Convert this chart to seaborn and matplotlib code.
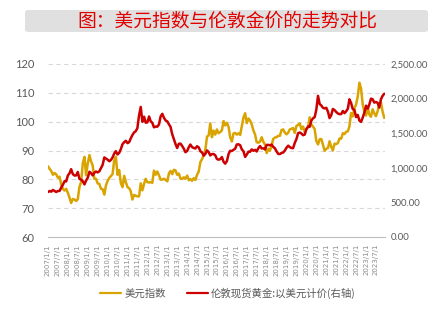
import numpy as np
import pandas as pd
import matplotlib
matplotlib.use("Agg")
import matplotlib.pyplot as plt
import matplotlib.dates as mdates
from matplotlib.patches import FancyBboxPatch
from matplotlib.ticker import FuncFormatter
import seaborn as sns

# ---------------- data (monthly readings) ----------------
title = "图：美元指数与伦敦金价的走势对比"
label_dxy = "美元指数"
label_gold = "伦敦现货黄金:以美元计价(右轴)"

dxy_2007 = [84.5, 83.6, 82.9, 81.6, 82.2, 81.7, 80.6, 80.9, 78.2, 76.7, 76.1, 76.7]
dxy_2008 = [75.3, 73.6, 71.8, 73.2, 73.0, 72.5, 73.1, 77.4, 79.1, 85.5, 87.8, 81.4]
dxy_2009 = [85.6, 88.4, 86.3, 84.8, 80.2, 80.2, 78.6, 78.4, 76.7, 76.6, 74.7, 77.9]
dxy_2010 = [79.5, 80.5, 81.1, 81.8, 86.5, 87.8, 81.6, 83.2, 78.7, 77.3, 81.2, 79.0]
dxy_2011 = [77.3, 76.9, 75.9, 73.0, 74.6, 74.3, 74.1, 74.1, 78.6, 76.2, 78.4, 80.2]
dxy_2012 = [79.0, 78.9, 79.0, 78.8, 83.0, 81.6, 82.7, 81.4, 79.9, 79.9, 80.2, 79.8]
dxy_2013 = [79.3, 82.1, 82.9, 81.8, 83.3, 83.1, 81.6, 82.0, 80.2, 80.2, 80.7, 80.2]
dxy_2014 = [81.3, 79.7, 80.1, 79.5, 80.4, 79.8, 81.5, 82.7, 86.0, 87.0, 88.4, 90.3]
dxy_2015 = [94.8, 95.3, 99.4, 94.6, 96.9, 95.5, 97.3, 96.0, 96.4, 97.0, 100.2, 98.7]
dxy_2016 = [99.6, 98.2, 94.6, 93.1, 95.9, 96.1, 95.5, 96.0, 95.4, 98.4, 101.5, 102.9]
dxy_2017 = [99.5, 101.1, 100.4, 99.1, 97.0, 95.6, 92.9, 92.7, 93.1, 94.6, 93.0, 92.1]
dxy_2018 = [89.1, 90.6, 89.9, 91.6, 94.0, 94.5, 94.6, 95.1, 95.1, 97.1, 97.3, 96.2]
dxy_2019 = [95.6, 96.2, 97.3, 97.5, 97.8, 96.1, 98.5, 98.9, 99.4, 97.4, 98.3, 96.4]
dxy_2020 = [97.4, 98.1, 101.5, 99.0, 98.3, 97.4, 93.3, 92.1, 93.9, 94.0, 91.9, 89.9]
dxy_2021 = [90.6, 90.9, 93.2, 91.3, 90.0, 92.4, 92.2, 92.6, 94.2, 94.1, 96.0, 95.7]
dxy_2022 = [96.5, 96.7, 98.3, 103.0, 101.8, 104.7, 105.9, 108.7, 113.5, 111.5, 105.9, 103.5]
dxy_2023 = [102.1, 104.9, 102.5, 101.7, 104.3, 102.9, 101.9, 103.6, 106.2, 106.7, 103.5, 101.3]

gold_2007 = [650, 665, 655, 680, 665, 650, 665, 665, 713, 754, 806, 803]
gold_2008 = [889, 922, 980, 909, 888, 890, 940, 839, 829, 806, 760, 816]
gold_2009 = [858, 943, 924, 890, 928, 946, 934, 949, 996, 1043, 1150, 1134]
gold_2010 = [1117, 1095, 1113, 1148, 1205, 1240, 1193, 1215, 1271, 1342, 1370, 1391]
gold_2011 = [1356, 1372, 1424, 1473, 1510, 1529, 1572, 1756, 1880, 1665, 1739, 1652]
gold_2012 = [1656, 1742, 1673, 1650, 1585, 1596, 1594, 1626, 1744, 1780, 1722, 1684]
gold_2013 = [1671, 1627, 1593, 1487, 1414, 1343, 1286, 1347, 1349, 1316, 1275, 1225]
gold_2014 = [1244, 1300, 1336, 1299, 1287, 1279, 1311, 1296, 1239, 1222, 1176, 1200]
gold_2015 = [1251, 1227, 1179, 1198, 1199, 1181, 1128, 1117, 1125, 1156, 1086, 1060]
gold_2016 = [1097, 1200, 1246, 1242, 1260, 1276, 1337, 1340, 1326, 1267, 1238, 1157]
gold_2017 = [1192, 1234, 1231, 1266, 1246, 1260, 1236, 1283, 1314, 1280, 1282, 1265]
gold_2018 = [1331, 1331, 1325, 1335, 1303, 1282, 1238, 1201, 1198, 1215, 1221, 1250]
gold_2019 = [1291, 1320, 1300, 1286, 1284, 1359, 1413, 1500, 1510, 1495, 1471, 1480]
gold_2020 = [1560, 1597, 1592, 1683, 1715, 1732, 1840, 2040, 1921, 1900, 1866, 1858]
gold_2021 = [1867, 1808, 1718, 1760, 1850, 1834, 1807, 1785, 1775, 1777, 1821, 1790]
gold_2022 = [1817, 1856, 1990, 1937, 1849, 1837, 1733, 1764, 1681, 1664, 1726, 1798]
gold_2023 = [1898, 1855, 1912, 1999, 1992, 1942, 1951, 1940, 1870, 1990, 2040, 2070]

dxy = (dxy_2007 + dxy_2008 + dxy_2009 + dxy_2010 + dxy_2011 + dxy_2012 + dxy_2013
       + dxy_2014 + dxy_2015 + dxy_2016 + dxy_2017 + dxy_2018 + dxy_2019 + dxy_2020
       + dxy_2021 + dxy_2022 + dxy_2023)
gold = (gold_2007 + gold_2008 + gold_2009 + gold_2010 + gold_2011 + gold_2012 + gold_2013
        + gold_2014 + gold_2015 + gold_2016 + gold_2017 + gold_2018 + gold_2019 + gold_2020
        + gold_2021 + gold_2022 + gold_2023)
dates = pd.date_range("2007-01-01", periods=len(dxy), freq="MS")
df = pd.DataFrame({"date": dates, "dxy": dxy, "gold": gold})

tick_dates = pd.date_range("2007-01-01", "2023-07-01", freq="6MS")
tick_labels = [f"{d.year}/{d.month}/{d.day}" for d in tick_dates]

# ---------------- style ----------------
sns.set_style("white")
plt.rcParams["font.family"] = ["Noto Sans CJK SC", "DejaVu Sans"]

YEL = "#D9A300"
RED = "#CC0000"
GRAY_TXT = "#595959"
NUM_FONT = ["Lato", "DejaVu Sans"]

fig = plt.figure(figsize=(4.32, 3.25), dpi=100)

# title box
box = FancyBboxPatch((25 / 432, 1 - 32 / 325), (428 - 25) / 432, 22 / 325,
                     boxstyle="round,pad=0,rounding_size=0.008",
                     transform=fig.transFigure, facecolor="#e0e0e0",
                     edgecolor="none", zorder=0)
fig.patches.append(box)
fig.text(227 / 432, 1 - 21 / 325, title, color="#E00000", fontsize=13.5,
         ha="center", va="center")

ax = fig.add_axes([48 / 432, 1 - 237 / 325, (385 - 48) / 432, (237 - 64) / 325])
sns.lineplot(data=df, x="date", y="dxy", ax=ax, color=YEL, linewidth=1.8,
             legend=False, zorder=3)
ax2 = ax.twinx()
sns.lineplot(data=df, x="date", y="gold", ax=ax2, color=RED, linewidth=1.8,
             legend=False, zorder=3)

ax.set_ylim(60, 120)
ax.set_yticks([60, 70, 80, 90, 100, 110, 120])
ax2.set_ylim(0, 2500)
ax2.set_yticks([0, 500, 1000, 1500, 2000, 2500])
ax2.yaxis.set_major_formatter(FuncFormatter(lambda v, p: f"{v:,.2f}"))

ax.set_xlim(pd.Timestamp("2007-01-01"), pd.Timestamp("2023-12-15"))
ax.set_xticks(tick_dates)
ax.set_xticklabels(tick_labels, rotation=90, fontsize=5, color="#8c8c8c",
                   family=["DejaVu Sans"])

for a in (ax, ax2):
    a.set_xlabel("")
    a.set_ylabel("")
    for s in ("left", "right", "top", "bottom"):
        a.spines[s].set_visible(False)

ax.spines["bottom"].set_visible(True)
ax.spines["bottom"].set_color("#bfbfbf")
ax.spines["bottom"].set_linewidth(0.8)

ax.tick_params(axis="y", length=0, pad=10, labelsize=8, labelcolor=GRAY_TXT)
ax2.tick_params(axis="y", length=0, pad=4, labelsize=6.8, labelcolor=GRAY_TXT)
for lab in ax.get_yticklabels() + ax2.get_yticklabels():
    lab.set_family(NUM_FONT)
ax.tick_params(axis="x", length=3, width=0.6, color="#bfbfbf", pad=2)

ax.grid(False)
ax2.grid(False)
for v in [70, 80, 90, 100, 110, 120]:
    ax.axhline(v, color="#d9d9d9", linewidth=0.8, linestyle=(0, (4, 3)), zorder=1)

handles = [plt.Line2D([], [], color=YEL, linewidth=1.6),
           plt.Line2D([], [], color=RED, linewidth=1.6)]
fig.legend(handles, [label_dxy, label_gold], loc="center",
           bbox_to_anchor=(228 / 432, 1 - 293 / 325), ncol=2, frameon=False,
           fontsize=7.5, labelcolor=GRAY_TXT, handlelength=2.0, handletextpad=0.3,
           columnspacing=2.0)

fig.savefig("out.png", dpi=100)
